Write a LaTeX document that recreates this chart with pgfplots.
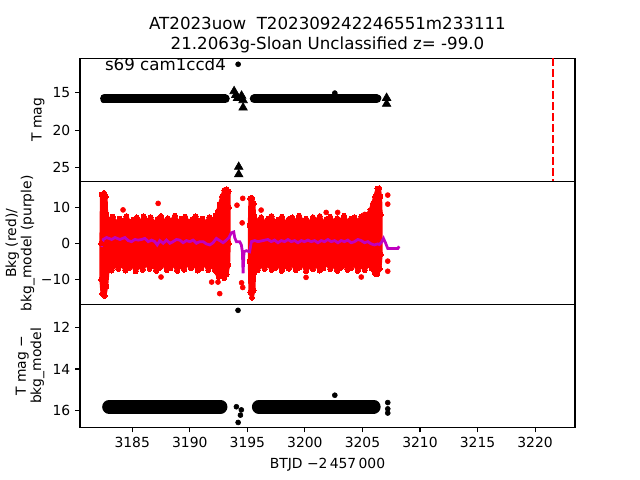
\documentclass[border=0pt]{standalone}
\usepackage{fontspec}
\setmainfont{DejaVu Sans}
\usepackage{pgfplots}
\pgfplotsset{compat=1.18}
\definecolor{mpurple}{RGB}{191,0,191}
\pgfplotsset{
  panel/.style={
    width=356.4pt, height=88.6pt, scale only axis,
    xmin=3180.46, xmax=3223.47,
    axis line style={line width=0.8pt},
    tick style={line width=0.8pt, black},
    major tick length=3.5pt, tick align=outside,
    xtick pos=left, ytick pos=left,
    every tick label/.append style={font=\fontsize{10}{12}\selectfont},
    /pgf/number format/assume math mode=true,
    clip=true,
  }
}
\begin{document}
\begin{tikzpicture}
\useasboundingbox (0,0) rectangle (460.8pt,345.6pt);
% Panel 1
\begin{axis}[panel, at={(57.6pt,303.6pt)}, anchor=north west,
  ymin=10.41, ymax=26.83, y dir=reverse,
  ytick={15,20,25}, yticklabels={15,20,25}, xtick=\empty]
\addplot[black, line width=6.5pt, line cap=round] coordinates {(3182.6,15.82) (3193.08,15.82)};
\addplot[black, line width=6.5pt, line cap=round] coordinates {(3195.6,15.82) (3206.24,15.82)};
\addplot[only marks, mark=*, mark size=1.8pt, black] coordinates {
 (3194.2,11.2) (3202.6,15.05) (3182.5,15.6) (3182.5,16.0) (3206.4,15.7)};
\addplot[only marks, mark=triangle*, mark size=3.6pt, black] coordinates {
 (3193.85,14.8) (3194.0,15.3) (3194.15,15.7) (3194.5,15.4) (3194.63,16.0) (3194.63,17.0)
 (3194.25,24.9) (3194.25,25.9) (3207.1,15.7) (3207.1,16.5)};
\addplot[red, line width=1.5pt, dash pattern=on 5.5pt off 2.4pt] coordinates {(3221.53,10.41) (3221.53,26.83)};
\node[anchor=base west, font=\fontsize{12}{14}\selectfont, inner sep=0pt] at (rel axis cs:0.05,0.9) {s69 cam1ccd4};
\end{axis}
% Panel 2
\begin{axis}[panel, at={(57.6pt,215.0pt)}, anchor=north west,
  ymin=-16.9, ymax=17.2,
  ytick={-10,0,10}, yticklabels={−10,0,10}, xtick=\empty]
\addplot[red, fill=red, line width=2.6pt, line join=round, mark=*, mark size=1.8pt, mark options={red, fill=red, line width=0pt}] coordinates {
(3182.35,13.5) (3182.55,14.0) (3182.7,13.0) (3182.75,8.0) (3183.0,6.2) (3183.3,7.4) (3183.6,5.6) (3183.9,6.9) (3184.2,6.0) (3184.5,7.6) (3184.8,5.4) (3185.1,6.6) (3185.4,7.2) (3185.7,5.8) (3186.0,7.5) (3186.3,6.1) (3186.6,7.3) (3186.9,5.5) (3187.2,6.8) (3187.5,7.6) (3187.8,5.9) (3188.1,7.0) (3188.4,6.2) (3188.7,7.7) (3189.0,5.7) (3189.3,6.9) (3189.6,7.4) (3189.9,5.8) (3190.2,6.7) (3190.5,7.5) (3190.8,6.0) (3191.1,6.9) (3191.4,5.6) (3191.7,7.3) (3192.0,6.4) (3192.25,7.8) (3192.45,9.0) (3192.6,10.8) (3192.8,13.0) (3193.0,14.8) (3193.2,15.0) (3193.38,14.5) (3193.4,10.0) (3193.4,0.0) (3193.35,-6.0) (3193.2,-8.6) (3193.0,-9.6) (3192.8,-8.5) (3192.5,-9.3) (3192.2,-7.6) (3191.9,-6.0) (3191.6,-7.4) (3191.3,-5.6) (3191.0,-6.9) (3190.7,-7.5) (3190.4,-5.8) (3190.1,-6.8) (3189.8,-5.5) (3189.5,-7.3) (3189.2,-6.1) (3188.9,-7.6) (3188.6,-5.7) (3188.3,-6.9) (3188.0,-7.4) (3187.7,-5.6) (3187.4,-6.7) (3187.1,-7.6) (3186.8,-5.9) (3186.5,-7.0) (3186.2,-5.5) (3185.9,-7.3) (3185.6,-6.2) (3185.3,-7.7) (3185.0,-5.8) (3184.7,-6.9) (3184.4,-7.5) (3184.1,-5.7) (3183.8,-7.1) (3183.5,-6.0) (3183.2,-7.5) (3182.9,-6.4) (3182.75,-12.0) (3182.6,-14.5) (3182.4,-14.0) (3182.3,-10.0) (3182.3,0.0) (3182.35,13.5)};
\addplot[red, fill=red, line width=2.6pt, line join=round, mark=*, mark size=1.8pt, mark options={red, fill=red, line width=0pt}] coordinates {
(3195.25,12.5) (3195.4,12.6) (3195.55,11.0) (3195.6,7.5) (3195.9,6.0) (3196.2,7.3) (3196.5,5.6) (3196.8,6.9) (3197.1,7.6) (3197.4,5.8) (3197.7,6.6) (3198.0,7.4) (3198.3,5.5) (3198.6,6.8) (3198.9,7.2) (3199.2,5.9) (3199.5,7.7) (3199.8,6.1) (3200.1,6.9) (3200.4,5.6) (3200.7,7.3) (3201.0,6.3) (3201.3,7.6) (3201.6,5.7) (3201.9,6.8) (3202.2,7.4) (3202.5,5.9) (3202.8,7.0) (3203.1,6.2) (3203.4,7.7) (3203.7,5.8) (3204.0,6.9) (3204.3,7.3) (3204.6,6.0) (3204.9,7.5) (3205.2,6.6) (3205.45,8.0) (3205.7,9.3) (3205.9,11.0) (3206.1,13.0) (3206.3,15.2) (3206.45,15.3) (3206.55,13.0) (3206.6,8.0) (3206.6,-3.0) (3206.5,-7.0) (3206.3,-8.5) (3206.1,-8.4) (3205.8,-7.0) (3205.5,-5.8) (3205.2,-7.4) (3204.9,-6.1) (3204.6,-7.6) (3204.3,-5.6) (3204.0,-6.9) (3203.7,-7.3) (3203.4,-5.7) (3203.1,-6.8) (3202.8,-7.6) (3202.5,-6.0) (3202.2,-7.1) (3201.9,-5.5) (3201.6,-6.9) (3201.3,-7.5) (3201.0,-5.9) (3200.7,-7.2) (3200.4,-6.3) (3200.1,-7.7) (3199.8,-5.8) (3199.5,-6.7) (3199.2,-7.4) (3198.9,-5.6) (3198.6,-7.0) (3198.3,-6.2) (3198.0,-7.6) (3197.7,-5.9) (3197.4,-6.8) (3197.1,-7.3) (3196.8,-5.7) (3196.5,-7.1) (3196.2,-6.0) (3195.9,-7.4) (3195.6,-8.0) (3195.55,-13.0) (3195.4,-15.0) (3195.25,-13.5) (3195.2,-5.0) (3195.2,5.0) (3195.25,12.5)};
\addplot[only marks, mark=*, mark size=1.8pt, red] coordinates {
 (3184.2,9.3) (3187.25,11.1) (3187.5,-9.3) (3191.9,-10.7) (3192.45,-10.7) (3192.6,-13.9)
 (3194.1,10.6) (3194.6,12.5) (3194.55,5.7) (3194.5,-10.9) (3194.6,-12.2)
 (3196.2,9.25) (3201.85,8.6) (3202.85,8.6) (3200.1,-9.4) (3204.9,-9.3) (3205.2,8.05)
 (3207.2,13.4) (3207.2,10.9) (3207.2,-4.9) (3207.2,-7.7)};
\addplot[mpurple, line width=2pt] coordinates {
(3182.34,-0.94) (3182.48,1.1) (3182.77,1.65) (3183.21,1.1) (3183.5,1.65) (3183.93,1.1) (3184.36,1.65) (3184.65,0.8) (3184.94,0.5) (3185.23,1.1) (3185.52,0.93) (3185.81,1.1) (3186.1,1.4) (3186.39,0.5) (3186.68,0.93) (3186.96,0.5) (3187.17,-0.4) (3187.4,0.8) (3187.69,0.05) (3187.98,0.93) (3188.27,0.05) (3188.55,0.5) (3188.84,1.1) (3189.13,0.93) (3189.42,0.2) (3189.71,0.8) (3190.0,0.5) (3190.29,0.93) (3190.58,0.05) (3190.87,0.5) (3191.16,0.5) (3191.45,-0.13) (3191.74,-0.4) (3192.02,0.2) (3192.31,1.4) (3192.6,0.8) (3192.89,0.2) (3193.18,0.93) (3193.41,1.65) (3193.61,2.95) (3193.82,3.2) (3193.9,1.65) (3194.05,0.5) (3194.34,0.5) (3194.48,-0.4) (3194.57,-2.3) (3194.63,-8.3) (3194.71,-2.3) (3194.91,-2.0) (3195.2,-2.3) (3195.35,0.5) (3195.64,0.8) (3195.93,0.5) (3196.36,0.8) (3196.79,1.1) (3197.08,0.5) (3197.37,0.93) (3197.66,0.2) (3197.95,0.8) (3198.24,0.5) (3198.53,1.1) (3198.82,0.5) (3199.11,0.8) (3199.4,0.2) (3199.69,0.8) (3199.97,0.5) (3200.26,0.93) (3200.55,0.5) (3200.84,0.8) (3201.13,0.2) (3201.42,0.8) (3201.71,0.5) (3202.0,1.1) (3202.29,0.5) (3202.58,0.8) (3202.87,0.2) (3203.15,0.8) (3203.44,0.5) (3203.73,0.93) (3204.02,0.2) (3204.31,0.5) (3204.6,1.1) (3204.89,0.8) (3205.18,0.2) (3205.47,0.5) (3205.76,-0.13) (3206.04,-0.4) (3206.33,-0.13) (3206.48,-0.3) (3206.65,0.3) (3206.83,1.4) (3207.0,0.2) (3207.2,-1.4) (3208.07,-1.4) (3208.2,-0.8)};
\end{axis}
% Panel 3
\begin{axis}[panel, at={(57.6pt,126.4pt)}, anchor=north west,
  ymin=10.92, ymax=16.79, y dir=reverse,
  ytick={12,14,16}, yticklabels={12,14,16},
  xtick={3185,3190,3195,3200,3205,3210,3215,3220},
  xticklabels={3185,3190,3195,3200,3205,3210,3215,3220}]
\addplot[black, line width=10pt, line cap=round] coordinates {(3182.99,15.8) (3192.67,15.8)};
\addplot[black, line width=10pt, line cap=round] coordinates {(3196.0,15.8) (3205.98,15.8)};
\addplot[only marks, mark=*, mark size=1.8pt, black] coordinates {
 (3194.19,11.2) (3202.6,15.25) (3194.05,15.8) (3194.48,15.95) (3194.4,16.2) (3194.2,16.55)
 (3207.2,15.6) (3207.2,15.9) (3207.2,16.1)};
\end{axis}
% titles and labels
\node[anchor=base, font=\fontsize{12}{14.4}\selectfont, inner sep=0pt] at (235.8pt,324.7pt) {AT2023uow\ \ T202309242246551m233111};
\node[anchor=base, font=\fontsize{12}{14.4}\selectfont, inner sep=0pt] at (235.8pt,310.0pt) {21.2063g-Sloan Unclassified z= -99.0};
\node[anchor=base, font=\fontsize{10}{12}\selectfont, inner sep=0pt] at (235.8pt,8.6pt) {BTJD −2\,457\,000};
\node[rotate=90, font=\fontsize{10}{12}\selectfont, inner sep=0pt] at (27.4pt,259.2pt) {T mag};
\node[rotate=90, align=center, font=\fontsize{10}{11}\selectfont, inner sep=0pt] at (14.4pt,170.4pt) {Bkg (red)/\\bkg\_model (purple)};
\node[rotate=90, align=center, font=\fontsize{10}{11}\selectfont, inner sep=0pt] at (21.6pt,82.1pt) {T mag −\\bkg\_model};
\end{tikzpicture}
\end{document}
